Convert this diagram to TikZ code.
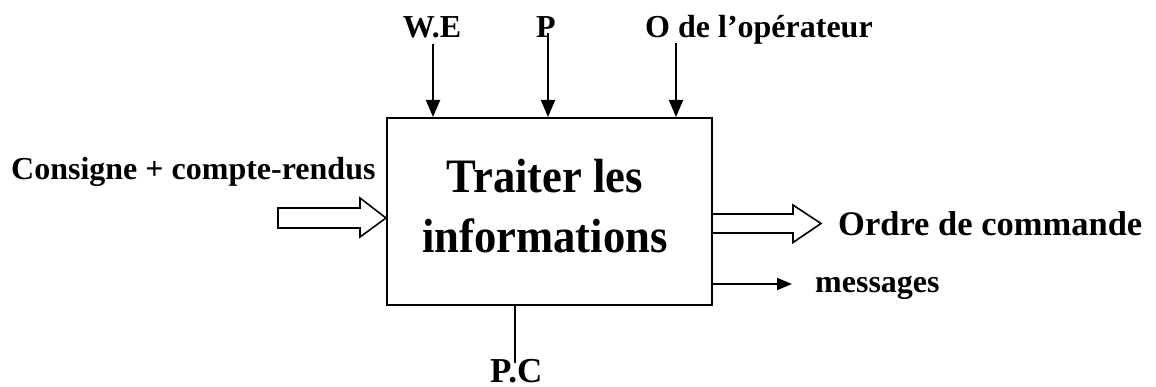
\documentclass[tikz,border=0pt]{standalone}
\usepackage{fontspec}
\setmainfont{Liberation Serif}
\usetikzlibrary{arrows.meta}
\begin{document}
\begin{tikzpicture}[x=1pt,y=-1pt,
  lbl/.style={inner sep=0pt, font=\fontsize{32}{38}\selectfont\bfseries},
  flow/.style={line width=1.8pt, -{Triangle[length=17pt,width=14pt]}},
  smallflow/.style={line width=1.8pt, -{Triangle[length=15pt,width=12pt]}},
  hollow/.style={draw, line width=1.6pt, fill=white, line join=miter},
]
\useasboundingbox (0,0) rectangle (1156,387);

% the processing block
\node[draw, line width=2pt, minimum width=325pt, minimum height=187pt, inner sep=0pt] (box) at (549.5,211.5) {};
\node[inner sep=0pt, align=center, font=\fontsize{48}{60}\selectfont\bfseries] (title) at (545,206)
  {\scalebox{0.93}[1]{Traiter les}\\\scalebox{0.93}[1]{informations}};

% control inputs on top
\node[lbl, anchor=base] (we) at (432,38) {W.E};
\node[lbl, anchor=base] (p) at (546,38) {P};
\node[lbl, anchor=base west] (op) at (645,38) {O de l'opérateur};
\coordinate (opin) at (676,43);
\draw[flow] ([xshift=1pt,yshift=-5pt]we.south) -- ([xshift=1pt]we.south |- box.north);
\draw[flow] ([xshift=2pt,yshift=5pt]p.south) -- ([xshift=2pt]p.south |- box.north);
\draw[flow] (opin) -- (opin |- box.north);

% main input
\node[lbl, anchor=base west] (in) at (11,180) {Consigne + compte-rendus};
\coordinate (inTip) at (box.west |- 0,218);
\draw[hollow, shift={(inTip)}] (-108,-10) -- (-26,-10) -- (-26,-20) -- (0,0)
  -- (-26,19) -- (-26,10) -- (-108,10) -- cycle;

% main output
\coordinate (outBase) at (box.east |- 0,223.5);
\draw[hollow, shift={(outBase)}] (0,-9.5) -- (80,-9.5) -- (80,-18.5) -- (108,0)
  -- (80,19) -- (80,9.5) -- (0,9.5);
\node[lbl, anchor=base west, font=\fontsize{34.5}{40}\selectfont\bfseries] (out) at (838,236) {Ordre de commande};

% secondary output
\coordinate (msgTip) at (792,284);
\draw[smallflow] (box.east |- msgTip) -- (msgTip);
\node[lbl, anchor=base west] (msg) at (815,293) {messages};

% support
\coordinate (pcEnd) at (515,363);
\draw[line width=1.8pt] (box.south -| pcEnd) -- (pcEnd);
\node[lbl, anchor=base west, font=\fontsize{35}{40}\selectfont\bfseries] (pc) at (490,382) {P.C};
\end{tikzpicture}
\end{document}
